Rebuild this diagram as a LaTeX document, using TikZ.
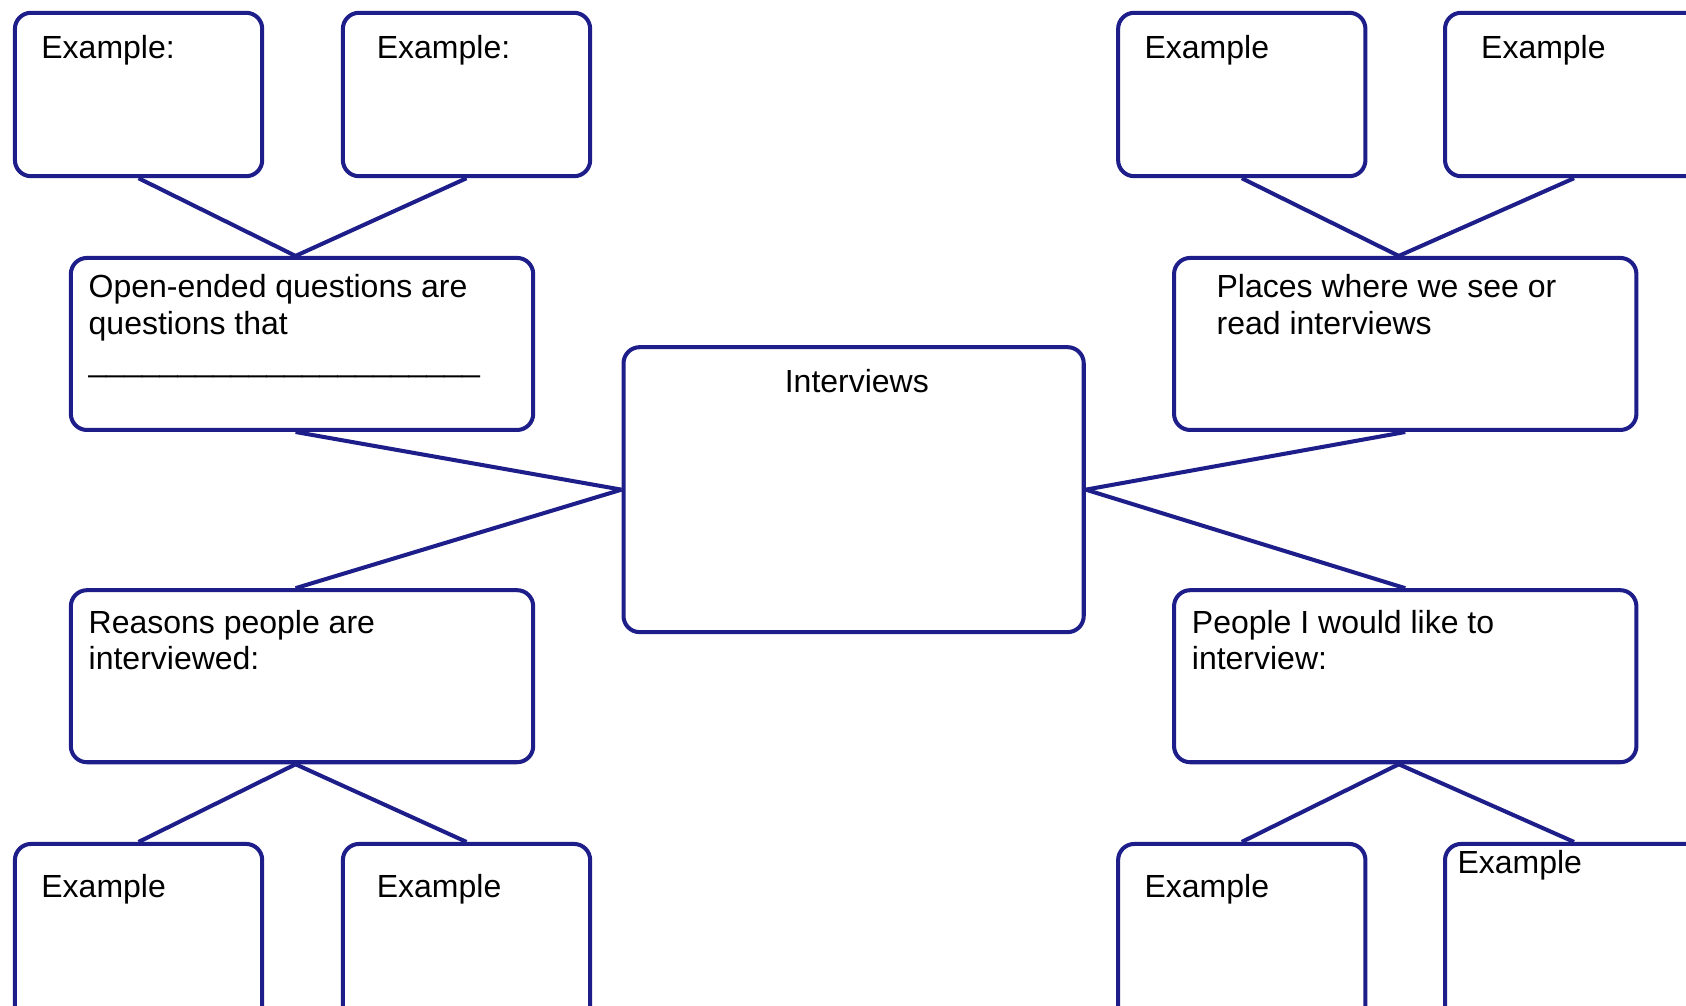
\documentclass[tikz,border=0pt]{standalone}
\usepackage{fontspec}
\setmainfont{Liberation Sans}
\usetikzlibrary{calc}
\definecolor{navy}{RGB}{30,30,138}
\tikzset{
box/.style={draw=navy, line width=1.5pt, rounded corners=6pt, anchor=north west, inner sep=0pt},
small/.style={box, minimum width=92pt, minimum height=60.8pt},
big/.style={box, minimum width=172pt, minimum height=64pt},
txt/.style={anchor=north west, inner sep=0pt, align=left, font=\fontsize{11.9}{13.6}\selectfont},
link/.style={draw=navy, line width=1.5pt},
}

\begin{document}
\begin{tikzpicture}[x=0.4pt, y=-0.4pt]
		\useasboundingbox (0,0) rectangle (1568,935);
		\clip (0,0) rectangle (1568,935);

		\coordinate (A) at (12,10);
		\coordinate (B) at (317,10);
		\coordinate (C) at (64,238);
		\coordinate (D) at (64,547);
		\coordinate (E) at (12,783);
		\coordinate (F) at (317,783);
		\coordinate (G) at (578,321);
		\coordinate (H) at (1038,10);
		\coordinate (I) at (1342,10);
		\coordinate (J) at (1090,238);
		\coordinate (K) at (1090,547);
		\coordinate (L) at (1038,783);
		\coordinate (M) at (1342,783);

		% boxes
		\node [small] (ex1) at (A) {};
		\node [small] (ex2) at (B) {};
		\node [big] (open) at (C) {};
		\node [big] (reason) at (D) {};
		\node [small, minimum height=68pt] (ex3) at (E) {};
		\node [small, minimum height=68pt] (ex4) at (F) {};
		\node [box, minimum width=171.2pt, minimum height=106pt] (main) at (G) {};
		\node [small] (ex5) at (H) {};
		\node [small, minimum width=96pt] (ex6) at (I) {};
		\node [big] (place) at (J) {};
		\node [big] (people) at (K) {};
		\node [small, minimum height=68pt] (ex7) at (L) {};
		\node [small, minimum width=96pt, minimum height=68pt] (ex8) at (M) {};

		% connectors
		\draw [link] (ex1.south) -- ($(open.north)+(-6,0)$);
		\draw [link] (ex2.south) -- ($(open.north)+(-6,0)$);
		\draw [link] ($(open.south)+(-6,0)$) -- (main.west);
		\draw [link] ($(reason.north)+(-6,0)$) -- (main.west);
		\draw [link] ($(reason.south)+(-6,0)$) -- (ex3.north);
		\draw [link] ($(reason.south)+(-6,0)$) -- (ex4.north);
		\draw [link] (ex5.south) -- ($(place.north)+(-6,0)$);
		\draw [link] (ex6.south) -- ($(place.north)+(-6,0)$);
		\draw [link] (place.south) -- (main.east);
		\draw [link] (people.north) -- (main.east);
		\draw [link] ($(people.south)+(-6,0)$) -- (ex7.north);
		\draw [link] ($(people.south)+(-6,0)$) -- (ex8.north);

		% texts
		\node [txt] (t1) at ($(ex1.north west)+(26,22)$) {Example:};
		\node [txt] (t2) at ($(ex2.north west)+(33,22)$) {Example:};
		\node [txt] (t3) at ($(open.north west)+(18,17)$) {Open-ended questions are\\questions that\\\_\_\_\_\_\_\_\_\_\_\_\_\_\_\_\_\_\_\_\_\_\_};
		\node [txt] (t4) at ($(reason.north west)+(18,20)$) {Reasons people are\\interviewed:};
		\node [txt] (t5) at ($(ex3.north west)+(26,30)$) {Example};
		\node [txt] (t6) at ($(ex4.north west)+(33,30)$) {Example};
		\node [txt, anchor=north] (t7) at ($(main.north)+(3,22)$) {Interviews};
		\node [txt] (t8) at ($(ex5.north west)+(26,22)$) {Example};
		\node [txt] (t9) at ($(ex6.north west)+(35,22)$) {Example};
		\node [txt] (t10) at ($(place.north west)+(41,17)$) {Places where we see or\\read interviews};
		\node [txt] (t11) at ($(people.north west)+(18,20)$) {People I would like to\\interview:};
		\node [txt] (t12) at ($(ex7.north west)+(26,30)$) {Example};
		\node [txt] (t13) at ($(ex8.north west)+(13,7)$) {Example};
	\end{tikzpicture}
\end{document}
